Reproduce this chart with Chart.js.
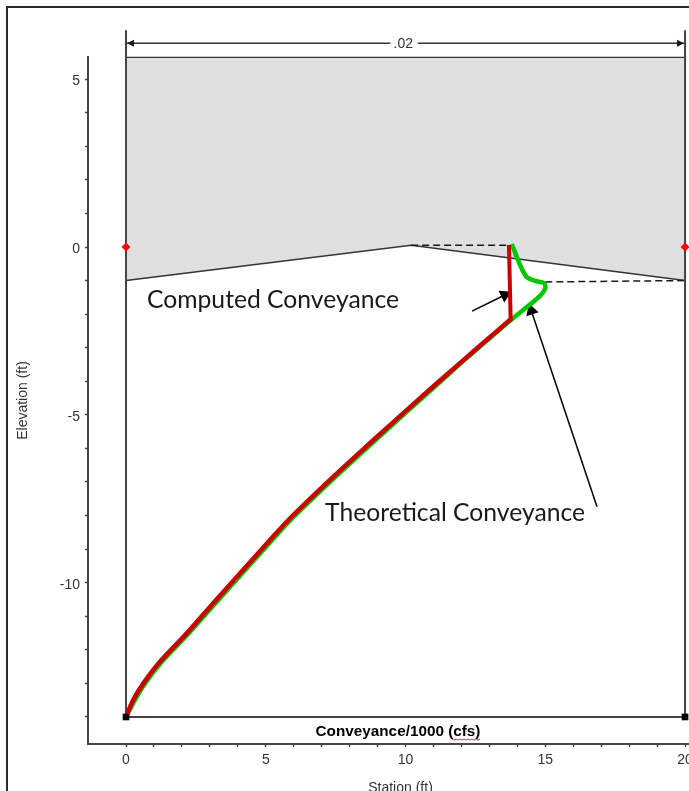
<!DOCTYPE html>
<html>
<head>
<meta charset="utf-8">
<title>Conveyance</title>
<script src="https://cdn.jsdelivr.net/npm/chart.js@4"></script>
<style>
  html, body { margin: 0; padding: 0; background: #fff; overflow: hidden; }
  #page { position: relative; width: 689px; height: 791px; overflow: hidden; }
  #frame { position: absolute; left: 6px; top: 6px; width: 800px; height: 900px; border: 2px solid #2a2a2a; }
  canvas { position: absolute; left: 0; top: 0; }
</style>
</head>
<body>
<div id="page">
  <div id="frame"></div>
  <canvas id="myChart" width="718" height="800"></canvas>
</div>
<script>
// conveyance curves
const computedX = [0, 0.26, 0.62, 1.22, 2.17, 3.12, 4.08, 5.15, 5.87, 7.42, 8.85, 10.04, 11.12, 12.07, 12.9, 13.76];
const computedY = [-14, -13.49, -13, -12.35, -11.51, -10.61, -9.72, -8.73, -8.08, -6.84, -5.75, -4.86, -4.06, -3.37, -2.77, -2.15];
const stemX = [13.76, 13.7];
const stemY = [-2.15, 0.06];
const theoreticalX = [0, 0.32, 0.68, 1.29, 2.24, 3.2, 4.16, 5.23, 5.95, 7.5, 8.93, 10.11, 11.18, 12.1, 12.93, 13.8, 14.81, 15, 14.96, 14.63, 14.33, 14.1, 13.8];
const theoreticalY = [-14, -13.49, -13, -12.35, -11.51, -10.61, -9.72, -8.73, -8.08, -6.84, -5.75, -4.86, -4.06, -3.37, -2.77, -2.15, -1.46, -1.23, -1.08, -1.01, -0.89, -0.54, 0.09];

// channel section
const groundX = [0, 10.2, 20];
const groundY = [-1, 0.05, -1];
const lidX = [0, 20];
const lidY = [5.65, 5.65];
const floorY = [-14, -14];
const wallY = [-14, 6.46];

// water surface dashes
const dashUpperX = [10.2, 13.75];
const dashUpperY = [0.05, 0.05];
const dashLowerX = [15, 20];
const dashLowerY = [-1.04, -1];

// dimension line, gap for the .02 label
const dimX = [0, 9.46, null, 10.44, 20];
const dimY = [6.07, 6.07, null, 6.07, 6.07];

// callout arrows
const arrow1X = [12.38, 13.55];
const arrow1Y = [-1.91, -1.43];
const arrow2X = [16.85, 14.5];
const arrow2Y = [-7.74, -1.9];

// markers on the walls
const bankX = [0, 20];
const bankY = [0, 0];

// text notes
const noteTexts = ['Computed Conveyance', 'Theoretical Conveyance'];
const noteX = [0.75, 7.12];
const noteY = [-1.58, -7.92];

function toPoints(xs, ys) {
  return xs.map((x, i) => ({x: x, y: ys[i]}));
}

function lineSet(xs, ys, color, width, extra) {
  return Object.assign({
    data: toPoints(xs, ys),
    showLine: true,
    borderColor: color,
    backgroundColor: color,
    borderWidth: width,
    pointRadius: 0,
    clip: false
  }, extra || {});
}

function keepWholeTicks(scale) {
  scale.ticks = scale.ticks.filter((t) => Number.isInteger(t.value));
}

const notesPlugin = {
  id: 'notes',
  afterDatasetsDraw(chart) {
    const c = chart.ctx;
    const sx = chart.scales.x;
    const sy = chart.scales.y;
    c.save();
    c.fillStyle = '#1a1a1a';
    c.textBaseline = 'middle';
    c.textAlign = 'left';
    c.font = '24.7px Lato';
    noteTexts.forEach((t, i) => {
      c.fillText(t, sx.getPixelForValue(noteX[i]), sy.getPixelForValue(noteY[i]));
    });

    // arrow heads of the dimension line sit above the plot area, points get skipped there
    const dy = sy.getPixelForValue(dimY[0]);
    c.beginPath();
    c.moveTo(sx.getPixelForValue(dimX[0]) + 1, dy);
    c.lineTo(sx.getPixelForValue(dimX[0]) + 8, dy - 3.5);
    c.lineTo(sx.getPixelForValue(dimX[0]) + 8, dy + 3.5);
    c.closePath();
    c.moveTo(sx.getPixelForValue(dimX[4]) - 1, dy);
    c.lineTo(sx.getPixelForValue(dimX[4]) - 8, dy - 3.5);
    c.lineTo(sx.getPixelForValue(dimX[4]) - 8, dy + 3.5);
    c.closePath();
    c.fill();

    c.fillStyle = '#333';
    c.textAlign = 'center';
    c.font = '14px "Liberation Sans"';
    c.fillText('.02', sx.getPixelForValue(9.92), dy + 1);

    c.fillStyle = '#000';
    c.font = 'bold 15.3px "Liberation Sans"';
    const mx = sx.getPixelForValue(9.73);
    const my = sy.getPixelForValue(-14.45);
    c.fillText('Conveyance/1000 (cfs)', mx, my);

    // spell check squiggle under cfs
    c.strokeStyle = '#d03030';
    c.lineWidth = 1;
    c.beginPath();
    for (let i = 0; i <= 14; i++) {
      const px = mx + 54 + i * 2;
      const py = my + 7 + (i % 2);
      if (i === 0) c.moveTo(px, py); else c.lineTo(px, py);
    }
    c.stroke();
    c.restore();
  }
};

const myChart = new Chart(document.getElementById('myChart').getContext('2d'), {
  type: 'scatter',
  data: {
    datasets: [
      lineSet(bankX, bankY, '#ff0000', 0, {showLine: false, pointRadius: 4.5, pointStyle: 'rectRot'}),
      lineSet(lidX, floorY, '#000', 0, {showLine: false, pointRadius: 4.7, pointStyle: 'rect'}),
      lineSet(computedX, computedY, '#c80000', 4.5, {tension: 0.35, borderCapStyle: 'round'}),
      lineSet(stemX, stemY, '#c80000', 4),
      lineSet(theoreticalX, theoreticalY, '#00c800', 4.5, {tension: 0.3, borderJoinStyle: 'round'}),
      lineSet(arrow1X, arrow1Y, '#000', 1.5, {pointRadius: [0, 6], pointStyle: 'triangle', pointRotation: 64}),
      lineSet(arrow2X, arrow2Y, '#000', 1.5, {pointRadius: [0, 6], pointStyle: 'triangle', pointRotation: -18}),
      lineSet(dashUpperX, dashUpperY, '#1a1a1a', 1.5, {borderDash: [7, 4]}),
      lineSet(dashLowerX, dashLowerY, '#1a1a1a', 1.5, {borderDash: [7, 4]}),
      lineSet(dimX, dimY, '#333', 1.5),
      lineSet([0, 0], wallY, '#444', 2),
      lineSet([20, 20], wallY, '#444', 2),
      lineSet(lidX, floorY, '#444', 2),
      lineSet(lidX, lidY, '#333', 1.2),
      lineSet(groundX, groundY, '#333', 1.5, {fill: 'end', backgroundColor: '#e0e0e0'})
    ]
  },
  options: {
    responsive: false,
    animation: false,
    events: [],
    layout: {autoPadding: false, padding: {top: 57, left: 0, right: 0, bottom: 0}},
    plugins: {legend: {display: false}, tooltip: {enabled: false}},
    scales: {
      x: {
        type: 'linear',
        min: -1.36,
        max: 21,
        afterBuildTicks: keepWholeTicks,
        afterFit(scale) { scale.height = 56; },
        border: {color: '#444', width: 2},
        grid: {drawOnChartArea: false, tickLength: 3, tickColor: '#444', tickWidth: 1.5},
        ticks: {
          stepSize: 1,
          autoSkip: false,
          maxRotation: 0,
          padding: 5,
          color: '#333',
          font: {family: 'Liberation Sans', size: 14},
          callback: (v) => (v % 5 === 0 ? String(v) : '')
        },
        title: {
          display: true,
          text: 'Station (ft)',
          color: '#333',
          font: {family: 'Liberation Sans', size: 14},
          padding: {top: 0, bottom: 3}
        }
      },
      y: {
        type: 'linear',
        min: -14.805,
        max: 5.66,
        afterBuildTicks: keepWholeTicks,
        afterFit(scale) { scale.width = 88; },
        border: {color: '#444', width: 2},
        grid: {drawOnChartArea: false, tickLength: 3, tickColor: '#444', tickWidth: 1.5},
        ticks: {
          stepSize: 1,
          autoSkip: false,
          padding: 5,
          labelOffset: 2,
          color: '#333',
          font: {family: 'Liberation Sans', size: 14},
          callback: (v) => (v % 5 === 0 ? String(v) : '')
        },
        title: {
          display: true,
          text: 'Elevation (ft)',
          color: '#333',
          font: {family: 'Liberation Sans', size: 14},
          padding: {top: 15, bottom: 0}
        }
      }
    }
  },
  plugins: [notesPlugin]
});
</script>
</body>
</html>
